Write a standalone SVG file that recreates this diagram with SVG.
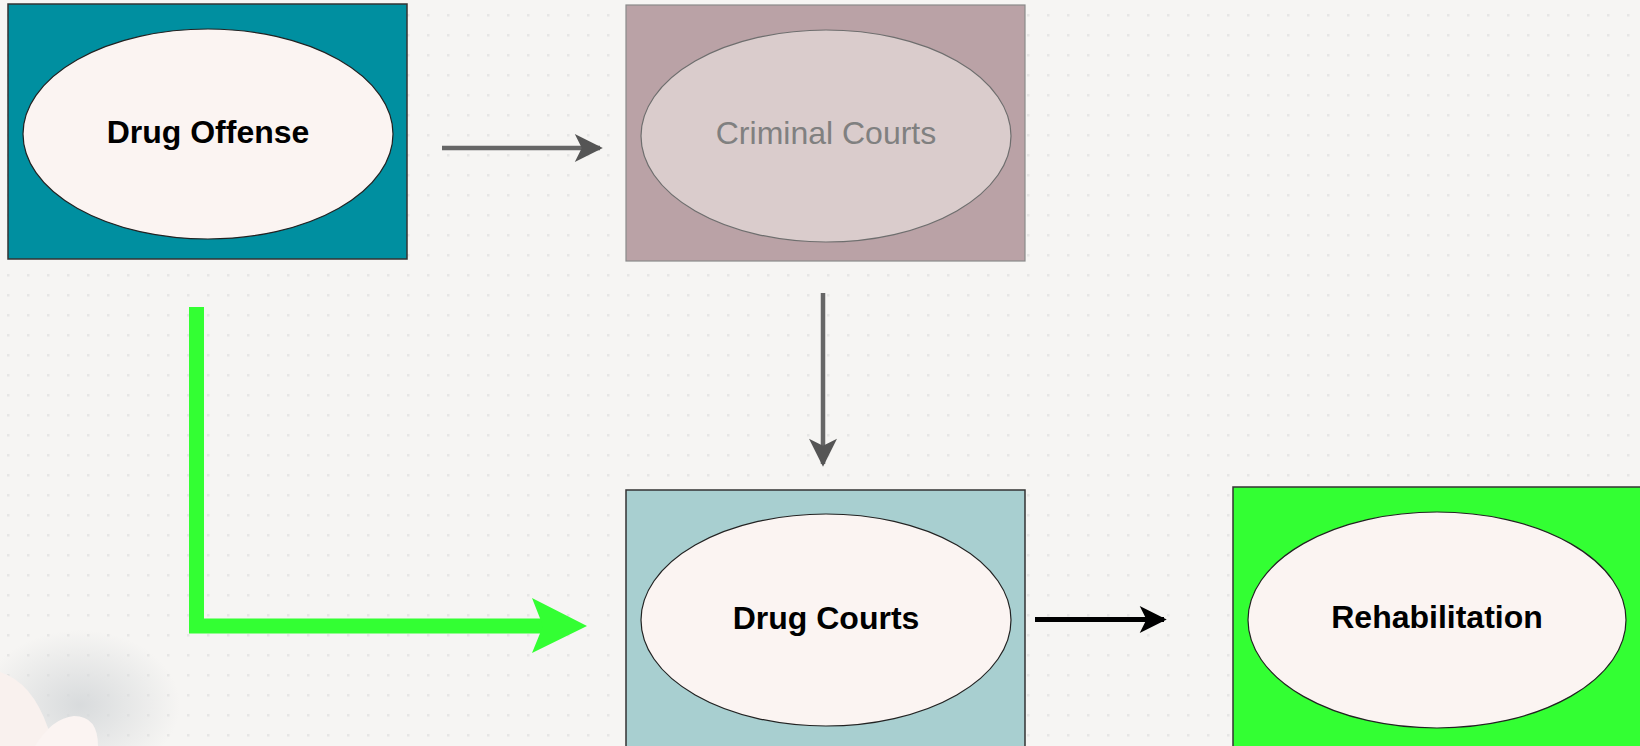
<svg xmlns="http://www.w3.org/2000/svg" width="1640" height="746" viewBox="0 0 1640 746">
  <defs>
    <pattern id="dots" x="0" y="0" width="20" height="20" patternUnits="userSpaceOnUse">
      <rect x="7" y="14" width="2.5" height="2.5" fill="#dcdcdc"/>
    </pattern>
    <radialGradient id="shadow" cx="0.5" cy="0.5" r="0.5">
      <stop offset="0" stop-color="#d5d8da" stop-opacity="0.9"/>
      <stop offset="1" stop-color="#d5d8da" stop-opacity="0"/>
    </radialGradient>
    <marker id="arrGray" viewBox="0 0 10 10" refX="9" refY="5" markerUnits="userSpaceOnUse" markerWidth="29" markerHeight="28" orient="auto">
      <path d="M0,0 L10,5 L0,10 L2.5,5 Z" fill="#555555"/>
    </marker>
    <marker id="arrBlack" viewBox="0 0 10 10" refX="9" refY="5" markerUnits="userSpaceOnUse" markerWidth="29" markerHeight="27" orient="auto">
      <path d="M0,0 L10,5 L0,10 L2.5,5 Z" fill="#000000"/>
    </marker>
  </defs>
  <style>
    .box { stroke: #333333; stroke-width: 1.5; }
    .ell { stroke: #222222; stroke-width: 1.2; fill: #FBF4F2; }
    .lbl { font-family: "Liberation Sans", Arial, sans-serif; font-size: 32px; text-anchor: middle; dominant-baseline: central; }
    .bold { font-weight: bold; fill: #000000; }
  </style>

  <rect x="0" y="0" width="1640" height="746" fill="#F6F5F3"/>
  <rect x="0" y="0" width="1640" height="746" fill="url(#dots)" opacity="0.6"/>
  <g id="background-shape">
    <ellipse cx="80" cy="705" rx="100" ry="75" fill="url(#shadow)"/>
    <path d="M0,672 Q32,682 48,728 L52,746 L0,746 Z" fill="#F9F1EE"/>
    <path d="M35,746 Q52,718 74,716 Q98,716 98,746 Z" fill="#FBF4F2"/>
  </g>

  <g id="node-drug-offense">
    <rect class="box" x="8" y="4" width="399" height="255" fill="#008FA0"/>
    <ellipse class="ell" cx="208" cy="134" rx="185" ry="105"/>
    <text class="lbl bold" x="208" y="132">Drug Offense</text>
  </g>

  <g id="node-criminal-courts">
    <rect x="626" y="5" width="399" height="256" fill="#BAA2A6" stroke="#8a8a8a" stroke-width="1.2"/>
    <ellipse cx="826" cy="136" rx="185" ry="106" fill="#DACCCC" stroke="#6e6e6e" stroke-width="1.2"/>
    <text class="lbl" x="826" y="133" fill="#808080">Criminal Courts</text>
  </g>

  <g id="node-drug-courts">
    <rect class="box" x="626" y="490" width="399" height="262" fill="#A8CFD0" stroke="#555555"/>
    <ellipse class="ell" cx="826" cy="620" rx="185" ry="106"/>
    <text class="lbl bold" x="826" y="618">Drug Courts</text>
  </g>

  <g id="node-rehabilitation">
    <rect class="box" x="1233" y="487" width="412" height="265" fill="#33FF33"/>
    <ellipse class="ell" cx="1437" cy="620" rx="189" ry="108"/>
    <text class="lbl bold" x="1437" y="617">Rehabilitation</text>
  </g>

  <g id="connectors">
    <line x1="442" y1="148" x2="600" y2="148" stroke="#666666" stroke-width="4.5" marker-end="url(#arrGray)"/>
    <line x1="823" y1="293" x2="823" y2="464" stroke="#666666" stroke-width="4.5" marker-end="url(#arrGray)"/>
    <polyline points="196.5,307 196.5,626 545,626" fill="none" stroke="#33FF33" stroke-width="15"/>
    <polygon points="532,598 587,626 532,653 543,626" fill="#33FF33"/>
    <line x1="1035" y1="619.5" x2="1164" y2="619.5" stroke="#000000" stroke-width="5" marker-end="url(#arrBlack)"/>
  </g>
</svg>
